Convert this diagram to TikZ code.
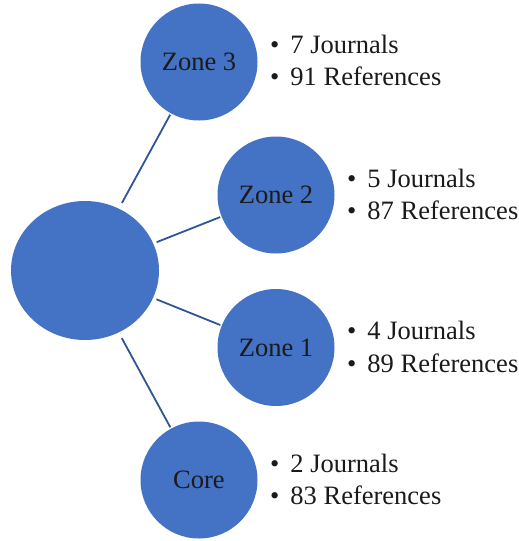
\documentclass[tikz,border=0pt]{standalone}
\usepackage{fontspec}
\setmainfont{Liberation Serif}
\usetikzlibrary{calc,shapes.geometric}
\definecolor{discfill}{HTML}{4472C4}
\definecolor{linkblue}{HTML}{2F5597}
\definecolor{ink}{HTML}{1A1A1A}
\begin{document}
\begin{tikzpicture}[x=1pt,y=-1pt,
  disc/.style={circle,fill=discfill,minimum size=117pt,inner sep=0pt,
    text=ink,font=\fontsize{26.5}{30}\selectfont},
  hub/.style={ellipse,fill=discfill,minimum width=148pt,minimum height=139pt,inner sep=0pt},
  link/.style={draw=linkblue,line width=1.8pt},
  facts/.style={anchor=base west,inner sep=0pt,text=ink,
    font=\fontsize{26.5}{32.5}\selectfont}]
\useasboundingbox (0,0) rectangle (519,541);

% central disc and the four zones
\node[hub] (c) at (85,270.5) {};
\node[disc] (z3) at (199,62) {Zone 3};
\node[disc] (z2) at (276,195) {Zone 2};
\node[disc] (z1) at (276,347.5) {Zone 1};
\node[disc] (core) at (199,480) {Core};

% spokes from the hub to each zone
\foreach \z in {z3,z2,z1,core}
  \draw[link] ($(c.center)!77pt!(\z.center)$) -- ($(\z.center)!60pt!(c.center)$);

% per-zone counts
\newcommand{\factlist}[2]{\begin{tabular}[t]{@{}l@{\hspace{11pt}}l@{}}\textbullet & #1\\ \textbullet & #2\end{tabular}}
\node[facts] (f3) at (270,53) {\factlist{7 Journals}{91 References}};
\node[facts] (f2) at (347,187) {\factlist{5 Journals}{87 References}};
\node[facts] (f1) at (347,339.5) {\factlist{4 Journals}{89 References}};
\node[facts] (f0) at (270,472) {\factlist{2 Journals}{83 References}};
\end{tikzpicture}
\end{document}
